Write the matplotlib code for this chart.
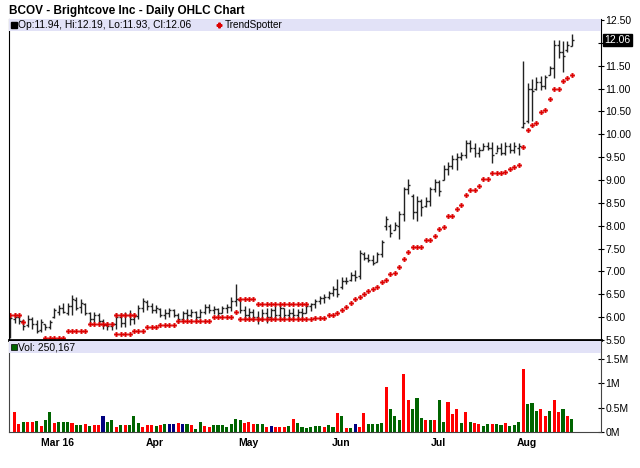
import numpy as np
import pandas as pd
import matplotlib
matplotlib.use('Agg')
import matplotlib.pyplot as plt
from matplotlib.patches import Rectangle
import matplotlib.transforms as mtrans

plt.rcParams['font.family'] = ['Liberation Sans', 'DejaVu Sans']

# trading sessions shown on the chart
days = pd.bdate_range('2016-02-16', '2016-08-16')
days = days[~days.isin(pd.to_datetime(['2016-03-25', '2016-05-30', '2016-07-04']))]

hi = [6.04, 6.08, 6.04, 5.97, 6.04, 6.01, 5.94, 5.97, 5.86, 5.94,
      6.20, 6.26, 6.30, 6.30, 6.48, 6.44, 6.40, 6.30, 6.12, 6.12,
      6.08, 5.97, 5.90, 5.90, 6.08, 6.08, 6.12, 6.15, 6.08, 6.26,
      6.41, 6.37, 6.30, 6.26, 6.19, 6.18, 6.21, 6.18, 6.10, 6.14,
      6.18, 6.18, 6.14, 6.18, 6.29, 6.29, 6.25, 6.21, 6.25, 6.29,
      6.43, 6.72, 6.40, 6.25, 6.21, 6.18, 6.14, 6.18, 6.21, 6.21,
      6.25, 6.29, 6.21, 6.18, 6.21, 6.18, 6.21, 6.29, 6.32, 6.40,
      6.47, 6.51, 6.58, 6.69, 6.84, 6.87, 6.87, 6.98, 7.02, 7.46,
      7.42, 7.38, 7.35, 7.42, 7.68, 8.22, 8.04, 8.08, 8.33, 8.85,
      9.03, 8.70, 8.66, 8.59, 8.63, 8.85, 9.03, 8.99, 9.32, 9.39,
      9.54, 9.58, 9.61, 9.87, 9.87, 9.80, 9.72, 9.80, 9.83, 9.83,
      9.76, 9.80, 9.83, 9.80, 9.83, 9.80, 11.60, 11.12, 11.20, 11.25,
      11.28, 11.30, 11.50, 12.06, 12.06, 12.04, 12.04, 12.19]
lo = [5.55, 5.87, 5.86, 5.72, 5.79, 5.75, 5.65, 5.68, 5.72, 5.75,
      5.98, 6.05, 6.08, 6.04, 6.04, 6.15, 6.10, 6.05, 5.86, 5.90,
      5.86, 5.75, 5.72, 5.72, 5.75, 5.79, 5.79, 5.83, 5.86, 5.97,
      6.11, 6.15, 6.08, 6.08, 6.01, 5.96, 6.00, 6.00, 5.88, 5.92,
      5.96, 6.00, 5.92, 5.99, 6.07, 6.10, 6.07, 6.03, 6.10, 6.10,
      6.14, 6.25, 6.10, 5.96, 5.99, 5.92, 5.85, 5.92, 5.88, 5.96,
      5.96, 5.99, 5.99, 5.96, 5.99, 5.96, 5.96, 6.10, 6.14, 6.21,
      6.29, 6.32, 6.40, 6.47, 6.43, 6.62, 6.72, 6.80, 6.80, 6.83,
      7.24, 7.20, 7.13, 7.20, 7.31, 7.90, 7.75, 7.90, 7.71, 8.11,
      8.70, 8.15, 8.11, 8.22, 8.41, 8.44, 8.74, 8.66, 8.99, 9.10,
      9.25, 9.21, 9.43, 9.47, 9.61, 9.50, 9.50, 9.65, 9.65, 9.36,
      9.61, 9.54, 9.54, 9.58, 9.58, 9.54, 10.13, 10.24, 10.30, 10.97,
      10.97, 11.00, 11.30, 11.23, 11.67, 11.37, 11.80, 11.93]
op = [5.60, 5.95, 6.00, 5.92, 5.82, 5.95, 5.85, 5.72, 5.85, 5.78,
      6.00, 6.12, 6.20, 6.10, 6.25, 6.38, 6.22, 6.28, 6.08, 5.95,
      6.05, 5.92, 5.82, 5.80, 5.85, 6.00, 5.88, 6.05, 5.95, 6.02,
      6.20, 6.33, 6.25, 6.15, 6.18, 6.05, 6.10, 6.15, 6.05, 5.95,
      6.08, 6.05, 6.12, 6.00, 6.12, 6.22, 6.15, 6.18, 6.10, 6.20,
      6.22, 6.35, 6.38, 6.15, 6.05, 6.12, 6.00, 5.95, 6.10, 6.00,
      6.15, 6.05, 6.20, 6.05, 6.10, 6.05, 6.12, 6.10, 6.25, 6.28,
      6.35, 6.42, 6.45, 6.52, 6.62, 6.65, 6.80, 6.82, 6.92, 6.90,
      7.38, 7.30, 7.25, 7.20, 7.38, 8.00, 8.00, 7.90, 8.00, 8.25,
      8.80, 8.65, 8.30, 8.55, 8.42, 8.55, 8.80, 8.95, 9.00, 9.25,
      9.30, 9.45, 9.50, 9.55, 9.80, 9.70, 9.60, 9.65, 9.75, 9.70,
      9.60, 9.70, 9.60, 9.75, 9.65, 9.70, 10.15, 10.30, 11.00, 10.98,
      11.15, 11.05, 11.30, 11.45, 11.95, 11.80, 11.85, 11.94]
cl = [5.98, 6.00, 5.92, 5.80, 5.95, 5.85, 5.70, 5.90, 5.78, 5.90,
      6.15, 6.20, 6.12, 6.25, 6.40, 6.20, 6.30, 6.10, 5.95, 6.05,
      5.92, 5.82, 5.80, 5.85, 6.00, 5.88, 6.05, 5.95, 6.02, 6.20,
      6.35, 6.25, 6.15, 6.20, 6.05, 6.10, 6.15, 6.05, 5.95, 6.08,
      6.05, 6.12, 6.00, 6.12, 6.22, 6.15, 6.18, 6.10, 6.20, 6.22,
      6.35, 6.40, 6.15, 6.05, 6.12, 6.00, 5.95, 6.10, 6.00, 6.15,
      6.05, 6.20, 6.05, 6.10, 6.05, 6.12, 6.08, 6.25, 6.28, 6.35,
      6.42, 6.45, 6.52, 6.62, 6.50, 6.80, 6.78, 6.92, 6.88, 7.40,
      7.30, 7.25, 7.18, 7.38, 7.65, 8.15, 7.85, 8.02, 8.25, 8.80,
      8.90, 8.30, 8.55, 8.40, 8.55, 8.80, 8.95, 8.75, 9.25, 9.30,
      9.45, 9.50, 9.55, 9.80, 9.70, 9.60, 9.65, 9.75, 9.70, 9.55,
      9.70, 9.60, 9.75, 9.65, 9.75, 9.75, 10.25, 11.00, 10.95, 11.15,
      11.05, 11.25, 11.45, 11.95, 11.80, 11.70, 11.95, 12.06]

nan = np.nan
ts_lower = ([nan] * 8 + [5.54] * 5 + [5.70] * 5 + [5.84] * 6 + [5.64] * 4
            + [5.70] * 3 + [5.78] * 3 + [5.83] * 4 + [5.92] * 8 + [6.01] * 5
            + [6.12] + [5.97] * 16
            + [5.96, 5.99, 5.99, 5.99, 6.04, 6.04, 6.09,
               6.15, 6.23, 6.31, 6.40, 6.44, 6.50, 6.57, 6.61, 6.66, 6.77,
               6.81, 6.94, 6.96, 7.10, 7.27, 7.43, 7.53, 7.54, 7.54, 7.69,
               7.69, 7.77, 7.93, 7.98, 8.21, 8.21, 8.36, 8.45,
               8.67, 8.78, 8.78, 8.87, 9.02, 9.02, 9.15, 9.15, 9.15, 9.18,
               9.24, 9.28, 9.33, nan,
               10.09, 10.20, 10.25, 10.49, 10.53, 10.76, 11.00, 11.00,
               11.17, 11.22, 11.30])
ts_upper = ([6.04] * 3 + [5.89] + [nan] * 20 + [6.04] * 5 + [nan] * 23
            + [6.39] * 4 + [6.28] * 12 + [nan] * 48 + [9.73] + [nan] * 11)

# volume in millions, sessions 2..128 (first session has no visible bar)
vol = [0.40, 0.17, 0.21, 0.21, 0.21, 0.23, 0.12, 0.24, 0.40, 0.18,
       0.21, 0.21, 0.21, 0.19, 0.14, 0.14, 0.16, 0.12, 0.14, 0.15,
       0.32, 0.21, 0.24, 0.10, 0.15, 0.15, 0.14, 0.32, 0.18, 0.10,
       0.15, 0.14, 0.12, 0.15, 0.16, 0.17, 0.17, 0.18, 0.17, 0.17,
       0.14, 0.07, 0.21, 0.12, 0.10, 0.15, 0.14, 0.14, 0.10, 0.17,
       0.27, 0.24, 0.18, 0.21, 0.17, 0.17, 0.17, 0.10, 0.12, 0.10,
       0.10, 0.10, 0.12, 0.27, 0.18, 0.10, 0.08, 0.10, 0.12, 0.12,
       0.10, 0.14, 0.10, 0.38, 0.32, 0.09, 0.09, 0.16, 0.10, 0.38,
       0.16, 0.16, 0.16, 0.19, 0.92, 0.46, 0.32, 0.25, 1.19, 0.65,
       0.47, 0.70, 0.29, 0.25, 0.24, 0.25, 0.66, 0.21, 0.62, 0.36,
       0.46, 0.19, 0.40, 0.21, 0.19, 0.16, 0.12, 0.16, 0.17, 0.16,
       0.14, 0.19, 0.12, 0.14, 0.21, 1.28, 0.57, 0.60, 0.43, 0.47,
       0.33, 0.43, 0.66, 0.41, 0.46, 0.33, 0.26]
vol_dir = ("rrgrrgrggr" "gggrggrgrr" "bggrgrgggr" "rrgrgbbrbg" "rggrrgggggg"
           "grrrggrbrr" "rgrgggg" "ggrggrgrgb" "rrggggrggg" "rrgggrgrgg"
           "rrrgrgrrgg" "rggrgggrgg" "g")
month_labels = ['Mar 16', 'Apr', 'May', 'Jun', 'Jul', 'Aug']

n = len(days)
xs = np.arange(n)
vx = np.arange(1, n)
dir_colors = {'g': '#006400', 'r': '#ff0000', 'b': '#00007f'}

fig = plt.figure(figsize=(6.4, 4.68), dpi=100)
L, R = 9 / 640, 601 / 640
ax1 = fig.add_axes([L, 1 - 340 / 468, R - L, 321 / 468])
ax2 = fig.add_axes([L, 1 - 432 / 468, R - L, 91 / 468])

fig.text(9 / 640, 1 - 11 / 468, 'BCOV - Brightcove Inc - Daily OHLC Chart',
         fontsize=8.5, fontweight='bold', va='center')

# price panel
bar_c = '#222222'
ax1.vlines(xs, lo, hi, color=bar_c, lw=1)
ax1.hlines(op, xs - 0.45, xs, color=bar_c, lw=1)
ax1.hlines(cl, xs, xs + 0.45, color=bar_c, lw=1)
ax1.plot(xs, ts_lower, 'P', ms=3.4, color='#dd0000', mec='#dd0000', mew=0.2, ls='none')
ax1.plot(xs, ts_upper, 'P', ms=3.4, color='#dd0000', mec='#dd0000', mew=0.2, ls='none')

ax1.set_xlim(-0.25, 133.6)
ax1.set_ylim(5.5, 12.52)
ax1.set_xticks([])
yt = np.arange(5.5, 12.51, 0.5)
ax1.set_yticks(yt)
ax1.set_yticklabels(['' if abs(v - 12.0) < 1e-6 else '%.2f' % v for v in yt])
ax1.yaxis.tick_right()
ax1.tick_params(axis='y', labelsize=7.5, length=4, direction='inout', pad=1, width=0.8)
ax1.spines['top'].set_visible(False)
ax1.spines['bottom'].set_linewidth(2)
ax1.spines['left'].set_linewidth(0.8)
ax1.spines['right'].set_linewidth(0.8)

band = 12 / 321
ax1.add_patch(Rectangle((0, 1 - band), 1, band, transform=ax1.transAxes,
                        facecolor='#e2e2f7', edgecolor='none', zorder=3))
ax1.plot([0.009], [1 - band / 2], 's', ms=4.5, color='black', transform=ax1.transAxes, zorder=4)
ax1.text(0.016, 1 - band / 2, 'Op:%.2f, Hi:%.2f, Lo:%.2f, Cl:%.2f' % (op[-1], hi[-1], lo[-1], cl[-1]),
         transform=ax1.transAxes, fontsize=7.4, va='center', zorder=4)
ax1.plot([0.354], [1 - band / 2], 'P', ms=3.4, color='#dd0000', transform=ax1.transAxes, zorder=4)
ax1.text(0.365, 1 - band / 2, 'TrendSpotter', transform=ax1.transAxes,
         fontsize=7.2, va='center', zorder=4)

tr = mtrans.blended_transform_factory(ax1.transAxes, ax1.transData)
ax1.text(1.006, cl[-1], '%.2f' % cl[-1], transform=tr, color='white', fontsize=7.5,
         va='center', ha='left',
         bbox=dict(boxstyle='square,pad=0.12', facecolor='black', edgecolor='black'))

# volume panel
ax2.bar(vx, vol, width=0.7, color=[dir_colors[c] for c in vol_dir], linewidth=0)
ax2.set_xlim(-0.25, 133.6)
ax2.set_ylim(0, 1.86)
ax2.set_yticks([0, 0.5, 1, 1.5])
ax2.set_yticklabels(['0M', '0.5M', '1M', '1.5M'])
ax2.yaxis.tick_right()
ax2.tick_params(axis='y', labelsize=7.5, length=4, direction='inout', pad=1, width=0.8)
ax2.spines['top'].set_visible(False)
for s in ['left', 'right', 'bottom']:
    ax2.spines[s].set_linewidth(0.8)
    ax2.spines[s].set_color('#444444')

vband = 12 / 91
ax2.add_patch(Rectangle((0, 1 - vband - 0.005), 1, vband, transform=ax2.transAxes,
                        facecolor='#e2e2f7', edgecolor='none', zorder=3))
ax2.plot([0.009], [1 - vband / 2 - 0.005], 's', ms=4.5, color='#006400',
         mec='black', mew=0.5, transform=ax2.transAxes, zorder=4)
ax2.text(0.016, 1 - vband / 2 - 0.005, 'Vol: 250,167', transform=ax2.transAxes,
         fontsize=7.4, va='center', zorder=4)

# month ticks at the first session of each month
mpos = [i for i in range(1, n) if days[i].month != days[i - 1].month]
ax2.set_xticks(np.array(mpos) + 0.8)
ax2.set_xticklabels(month_labels, fontsize=7.5, fontweight='bold')
ax2.tick_params(axis='x', length=0, pad=4)

fig.savefig('out.png', dpi=100)
